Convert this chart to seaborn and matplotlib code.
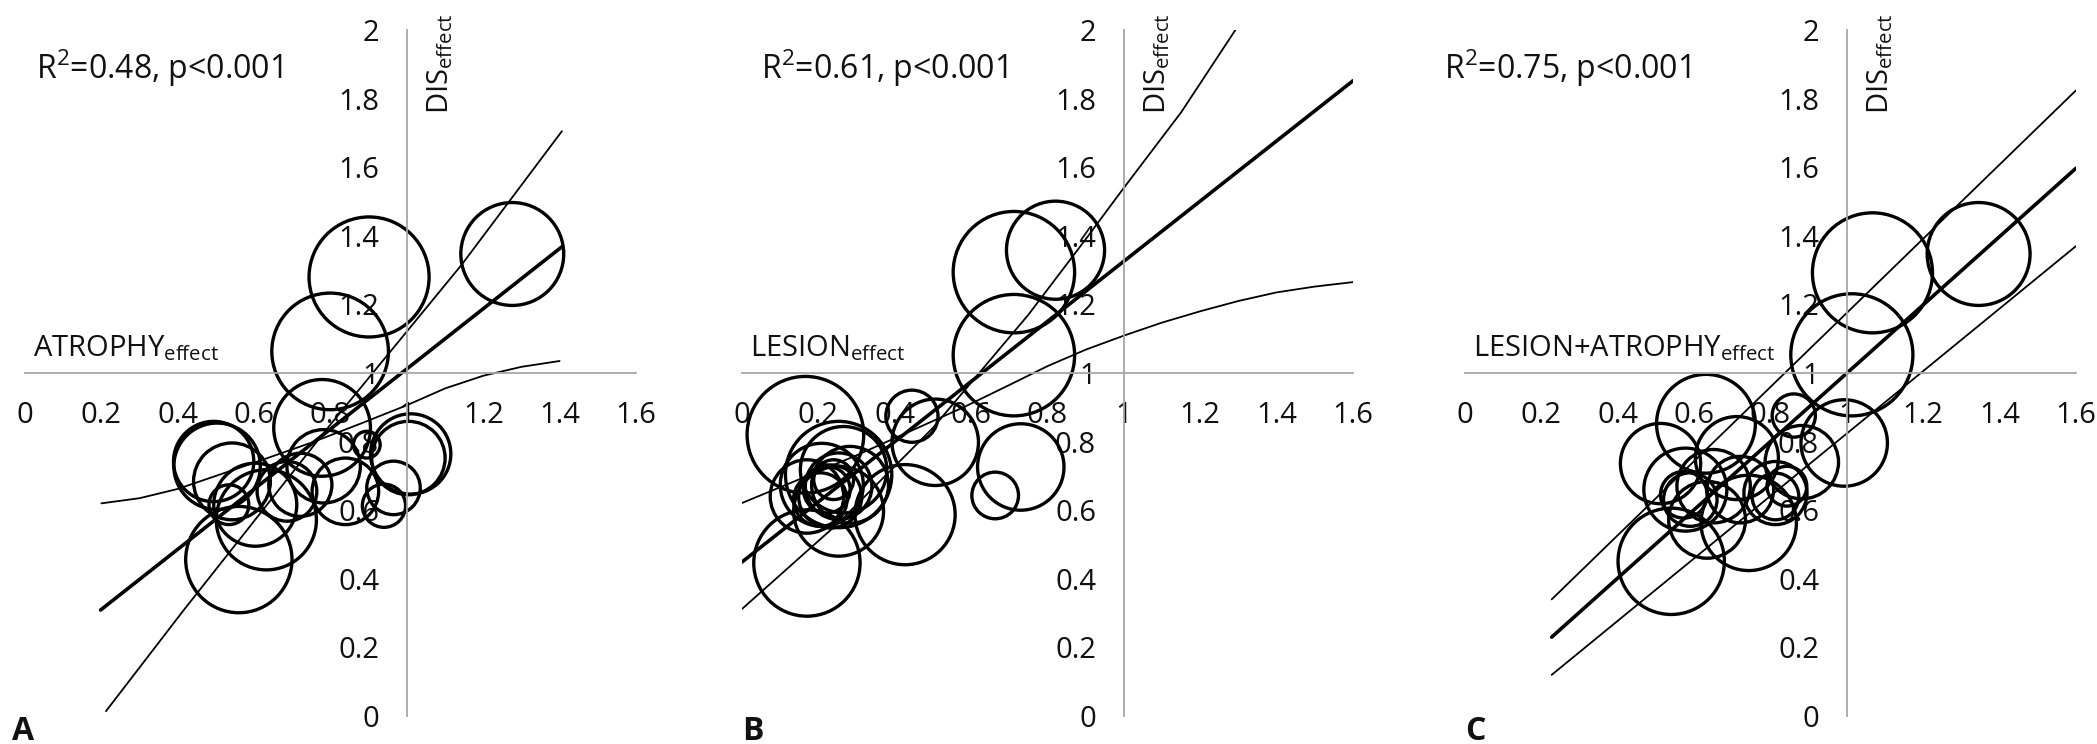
import numpy as np
import matplotlib
matplotlib.use("Agg")
import matplotlib.pyplot as plt
import seaborn as sns

# --- axis ticks (same on all three panels) ---
x_ticks = [0, 0.2, 0.4, 0.6, 0.8, 1.0, 1.2, 1.4, 1.6]
x_tick_labels = ['0', '0.2', '0.4', '0.6', '0.8', '1', '1.2', '1.4', '1.6']
y_ticks = [0, 0.2, 0.4, 0.6, 0.8, 1.0, 1.2, 1.4, 1.6, 1.8, 2.0]
y_tick_labels = ['0', '0.2', '0.4', '0.6', '0.8', '1', '1.2', '1.4', '1.6', '1.8', '2']

# --- Panel A: ATROPHY effect (bubble x, DIS y, bubble radius in DIS units) ---
atrophy_x = [1.276, 0.901, 0.799, 0.778, 1.010, 1.004, 0.965, 0.940, 0.503, 0.494,
             0.542, 0.534, 0.603, 0.560, 0.632, 0.686, 0.782, 0.839, 0.895, 0.721]
atrophy_y = [1.347, 1.280, 1.063, 0.840, 0.764, 0.752, 0.665, 0.613, 0.728, 0.742,
             0.684, 0.616, 0.616, 0.456, 0.572, 0.655, 0.728, 0.655, 0.791, 0.674]
atrophy_r = [0.150, 0.175, 0.170, 0.141, 0.117, 0.107, 0.078, 0.063, 0.126, 0.117,
             0.112, 0.058, 0.121, 0.155, 0.146, 0.087, 0.107, 0.097, 0.039, 0.092]
atrophy_fit_x = [0.198, 1.406]
atrophy_fit_y = [0.309, 1.368]
atrophy_hi_x = [0.212, 0.413, 0.8, 1.143, 1.406]
atrophy_hi_y = [0.014, 0.305, 0.85, 1.315, 1.705]
atrophy_lo_x = [0.2, 0.3, 0.4, 0.5, 0.617, 0.75, 0.878, 1.0, 1.1, 1.2, 1.3, 1.4]
atrophy_lo_y = [0.62, 0.635, 0.662, 0.70, 0.745, 0.797, 0.852, 0.906, 0.955, 0.992, 1.018, 1.035]

# --- Panel B: LESION effect ---
lesion_x = [0.821, 0.712, 0.712, 0.445, 0.506, 0.730, 0.663, 0.427, 0.166, 0.170,
            0.170, 0.253, 0.253, 0.266, 0.209, 0.253, 0.222, 0.240, 0.205, 0.231, 0.283]
lesion_y = [1.358, 1.294, 1.052, 0.874, 0.798, 0.726, 0.643, 0.587, 0.820, 0.446,
            0.640, 0.704, 0.597, 0.718, 0.674, 0.670, 0.660, 0.689, 0.631, 0.640, 0.674]
lesion_r = [0.143, 0.177, 0.177, 0.076, 0.126, 0.126, 0.068, 0.146, 0.170, 0.155,
            0.107, 0.155, 0.131, 0.126, 0.121, 0.097, 0.068, 0.058, 0.078, 0.092, 0.112]
lesion_fit_x = [0.0, 1.6]
lesion_fit_y = [0.449, 1.852]
lesion_hi_x = [0.0, 0.25, 0.5, 0.75, 0.9, 1.0, 1.15, 1.292]
lesion_hi_y = [0.312, 0.56, 0.84, 1.17, 1.39, 1.54, 1.76, 2.0]
lesion_lo_x = [0.0, 0.15, 0.3, 0.45, 0.58, 0.7, 0.8, 0.9, 1.0, 1.1, 1.2, 1.3, 1.4, 1.5, 1.6]
lesion_lo_y = [0.621, 0.69, 0.76, 0.835, 0.90, 0.965, 1.02, 1.068, 1.109, 1.147, 1.18,
               1.21, 1.235, 1.252, 1.265]

# --- Panel C: LESION+ATROPHY effect ---
combined_x = [1.345, 1.067, 1.013, 0.993, 0.631, 0.512, 0.540, 0.577, 0.634, 0.743,
              0.712, 0.882, 0.861, 0.573, 0.590, 0.813, 0.813, 0.843, 0.721, 0.651]
combined_y = [1.347, 1.292, 1.053, 0.796, 0.852, 0.736, 0.451, 0.660, 0.572, 0.563,
              0.752, 0.740, 0.876, 0.645, 0.631, 0.650, 0.640, 0.670, 0.660, 0.670]
combined_r = [0.150, 0.175, 0.178, 0.126, 0.144, 0.117, 0.155, 0.121, 0.112, 0.139,
              0.121, 0.107, 0.063, 0.068, 0.078, 0.092, 0.068, 0.058, 0.097, 0.107]
combined_fit_x = [0.227, 1.6]
combined_fit_y = [0.23, 1.597]
combined_hi_x = [0.227, 1.6]
combined_hi_y = [0.34, 1.824]
combined_lo_x = [0.227, 1.6]
combined_lo_y = [0.12, 1.37]

sns.set_style("white")
plt.rcParams['font.family'] = ['Open Sans', 'DejaVu Sans']
plt.rcParams['mathtext.fontset'] = 'custom'
plt.rcParams['mathtext.rm'] = 'Open Sans'
plt.rcParams['mathtext.it'] = 'Open Sans:italic'
plt.rcParams['mathtext.bf'] = 'Open Sans:bold'

W, H = 2097, 744
fig = plt.figure(figsize=(W / 100, H / 100), dpi=100)

axis_grey = '#a6a6a6'
text_col = '#111111'
tick_fs = 21


def draw_panel(left_px, xs, ys, rs, fit, hi, lo, r2_text, r2_x, xlabel, letter):
    ax = fig.add_axes([left_px / W, (H - 716) / H, 611 / W, 686 / H])
    ax.set_xlim(0, 1.6)
    ax.set_ylim(0, 2)

    # bubble radius (data units) -> marker area in points^2
    px_per_unit = ax.transData.transform((0, 1))[1] - ax.transData.transform((0, 0))[1]
    sizes = [(2 * r * px_per_unit * 72 / fig.dpi) ** 2 for r in rs]
    sns.scatterplot(x=xs, y=ys, s=sizes, facecolor='none', edgecolor='black',
                    linewidth=2.4, ax=ax, legend=False, clip_on=False)

    sns.lineplot(x=hi[0], y=hi[1], color='black', linewidth=1.3, ax=ax, sort=False)
    sns.lineplot(x=lo[0], y=lo[1], color='black', linewidth=1.3, ax=ax, sort=False)
    sns.lineplot(x=fit[0], y=fit[1], color='black', linewidth=2.6, ax=ax, sort=False)

    # axes crossing at (1, 1)
    for side in ['top', 'right']:
        ax.spines[side].set_visible(False)
    ax.spines['left'].set_position(('data', 1))
    ax.spines['bottom'].set_position(('data', 1))
    for side in ['left', 'bottom']:
        ax.spines[side].set_color(axis_grey)
        ax.spines[side].set_linewidth(1.3)
    ax.set_xticks(x_ticks, x_tick_labels)
    ax.set_yticks(y_ticks, y_tick_labels)
    ax.tick_params(direction='out', length=7, width=1.3, color=axis_grey,
                   labelsize=tick_fs, labelcolor=text_col, pad=13)
    ax.set_xlabel('')
    ax.set_ylabel('')
    ax.patch.set_alpha(0)

    ax.text(r2_x, 1.856, r'R$^{\mathrm{2}}$=' + r2_text + ', p<0.001', fontsize=23,
            ha='left', va='baseline', color=text_col)
    ax.text(0.02, 1.05, xlabel + r'$_{\mathrm{effect}}$', fontsize=21,
            ha='left', va='baseline', color=text_col)
    ax.text(1.087, 1.755, r'DIS$_{\mathrm{effect}}$', fontsize=21, rotation=90,
            ha='center', va='bottom', color=text_col)
    fig.text(letter[1] / W, 4 / H, letter[0], fontsize=23, fontweight='bold',
             ha='left', va='baseline', color=text_col)
    return ax


draw_panel(25, atrophy_x, atrophy_y, atrophy_r,
           (atrophy_fit_x, atrophy_fit_y), (atrophy_hi_x, atrophy_hi_y),
           (atrophy_lo_x, atrophy_lo_y), '0.48', 0.03, 'ATROPHY', ('A', 12))
draw_panel(742, lesion_x, lesion_y, lesion_r,
           (lesion_fit_x, lesion_fit_y), (lesion_hi_x, lesion_hi_y),
           (lesion_lo_x, lesion_lo_y), '0.61', 0.05, 'LESION', ('B', 742))
draw_panel(1465, combined_x, combined_y, combined_r,
           (combined_fit_x, combined_fit_y), (combined_hi_x, combined_hi_y),
           (combined_lo_x, combined_lo_y), '0.75', -0.055, 'LESION+ATROPHY', ('C', 1465))

fig.savefig('out.png', dpi=100)
